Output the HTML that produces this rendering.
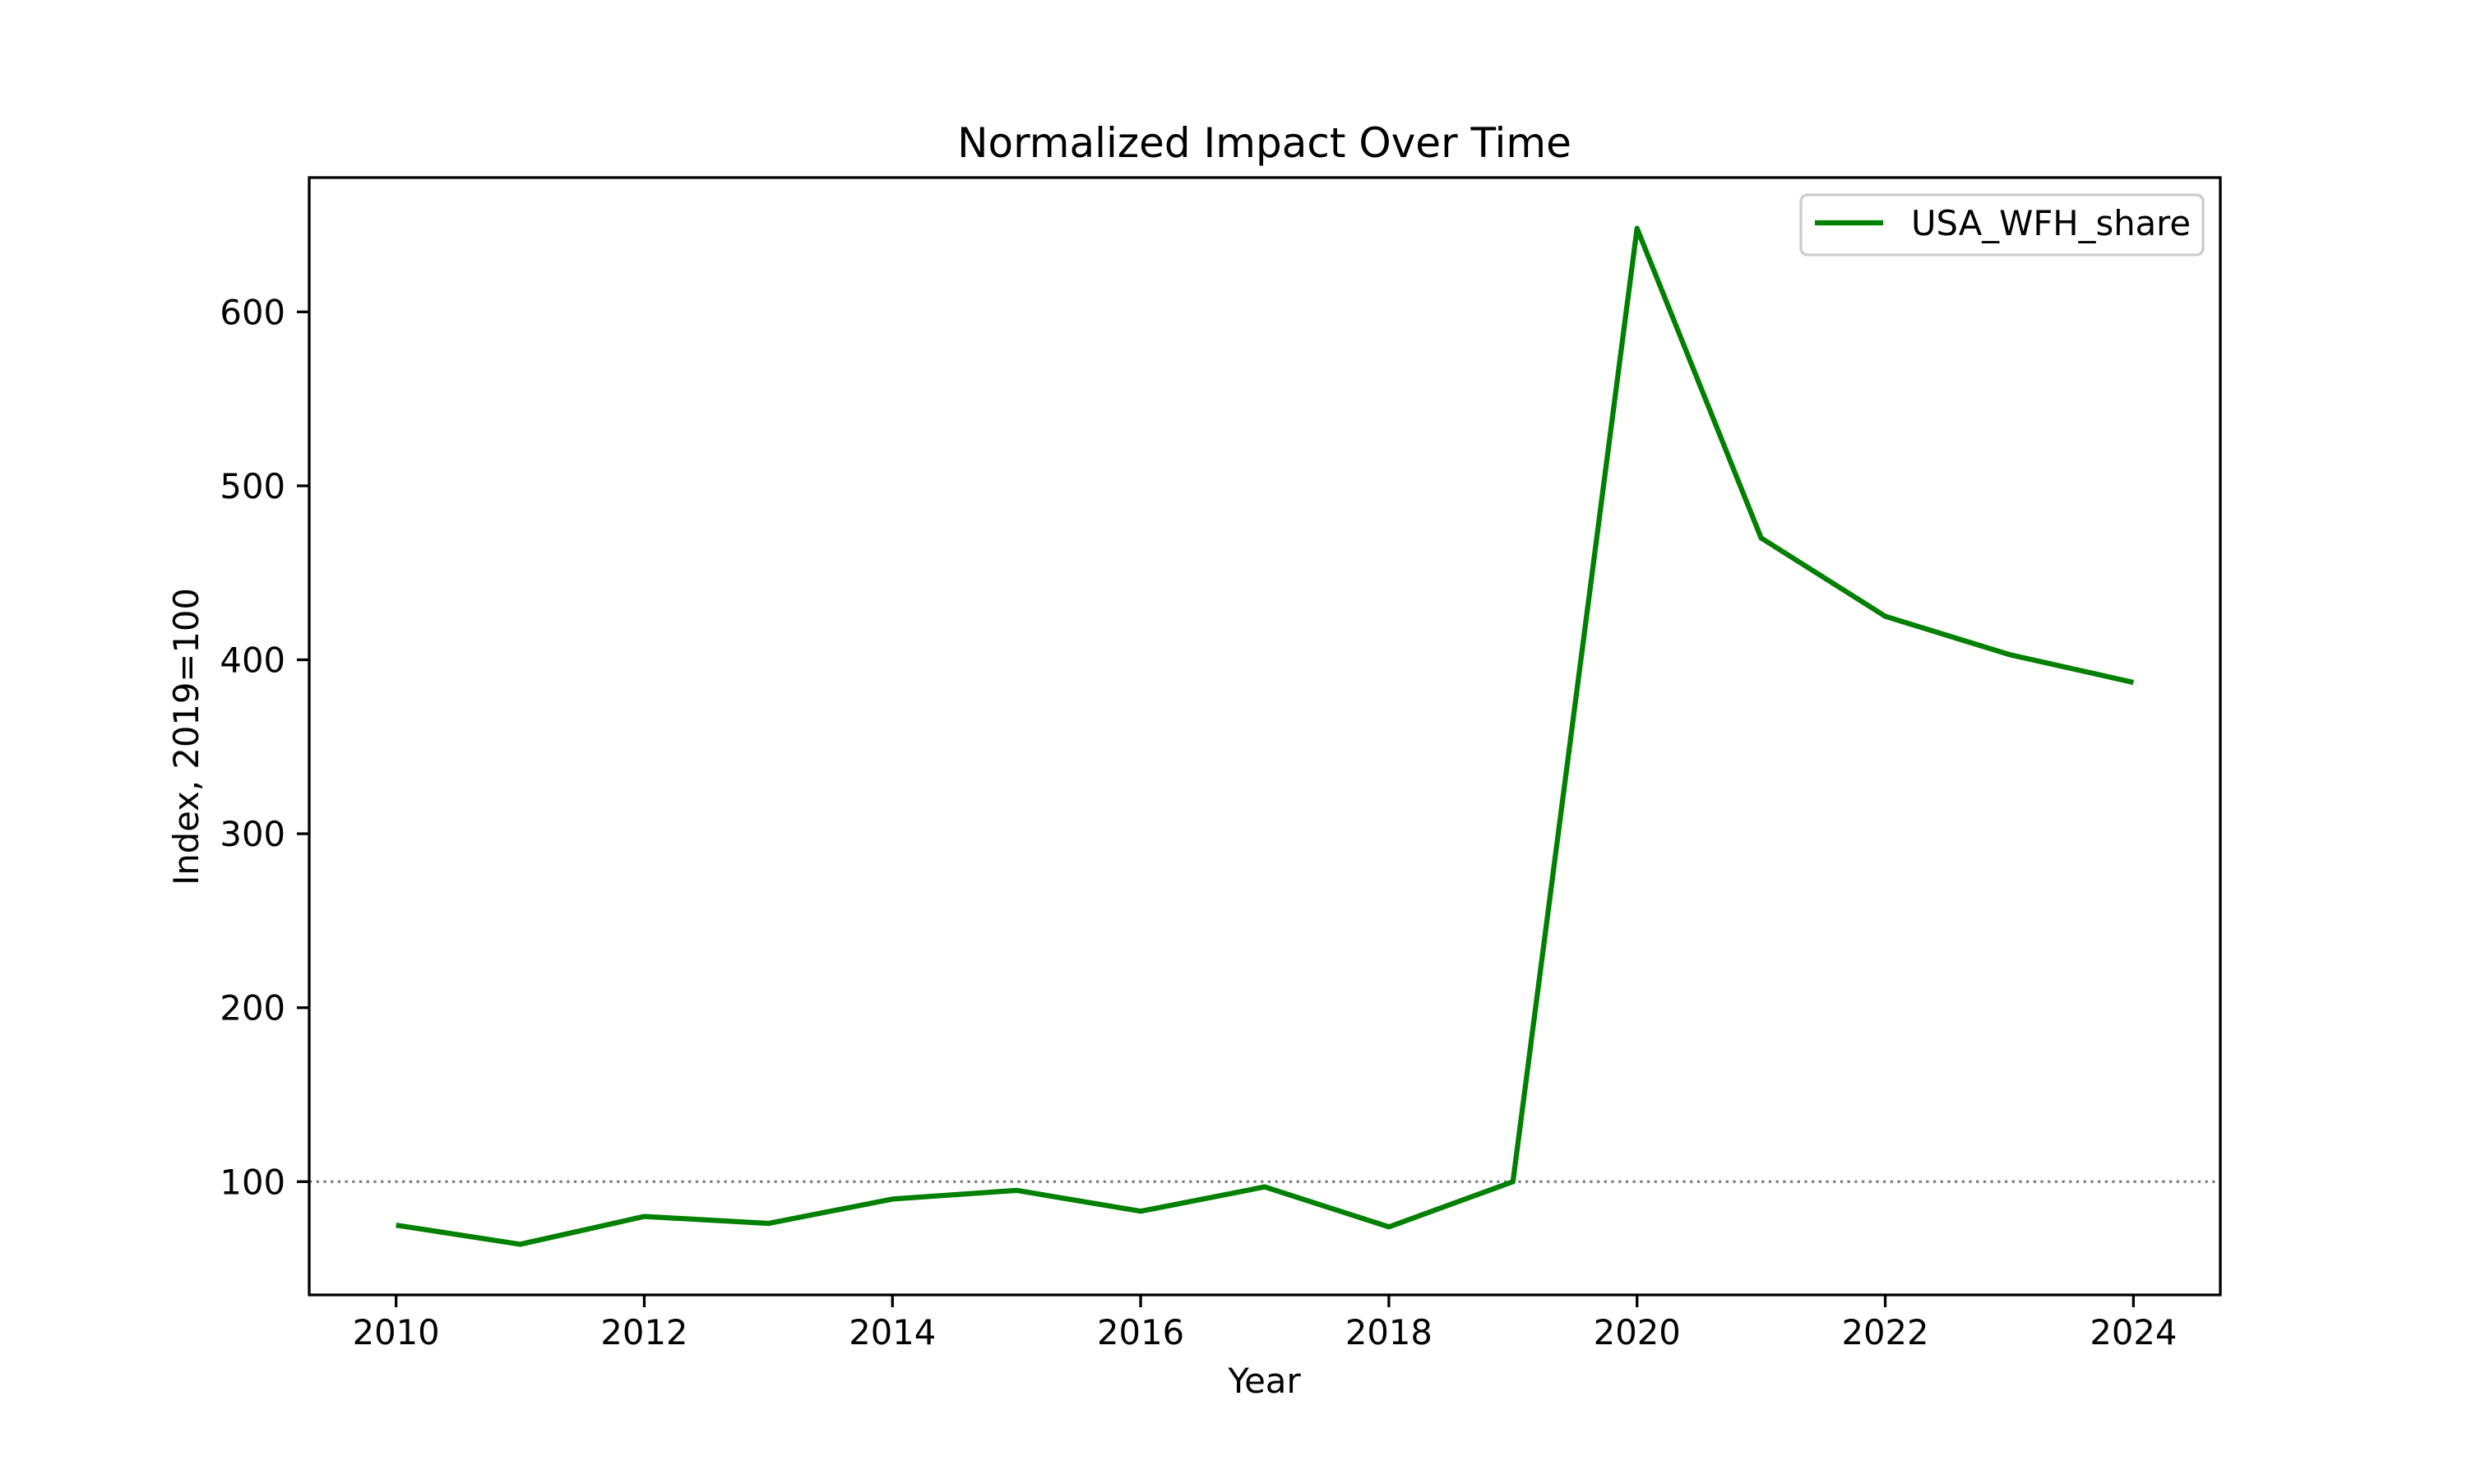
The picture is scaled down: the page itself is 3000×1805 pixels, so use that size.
<!DOCTYPE html>
<html><head><meta charset="utf-8"><style>
body{margin:0;background:#fff}
svg text{font-family:"DejaVu Sans","Liberation Sans",sans-serif;fill:#000}
</style></head><body>
<svg id="chart" width="3000" height="1800" viewBox="0 0 3000 1800" xmlns="http://www.w3.org/2000/svg">
<rect width="3000" height="1800" fill="#fff"/>
<text x="1537.5" y="191" font-size="50" text-anchor="middle">Normalized Impact Over Time</text>
<g id="grid"></g>
<g id="series"></g>
<rect x="376" y="216" width="2324" height="1359" fill="none" stroke="#000" stroke-width="3.3"/>
<g id="xticks"></g><g id="yticks"></g>
<text x="1537.5" y="1694" font-size="41.7" text-anchor="middle">Year</text>
<text transform="translate(241,896) rotate(-90)" font-size="41.7" text-anchor="middle">Index, 2019=100</text>
<g>
<rect x="2190" y="237" width="489" height="73" rx="8" fill="#fff" stroke="#ccc" stroke-width="3.3"/>
<line x1="2207" y1="271" x2="2290" y2="271" stroke="#008000" stroke-width="6.25"/>
<text x="2324" y="286" font-size="41.7">USA_WFH_share</text>
</g>
</svg>
<script>
const years=[2010,2011,2012,2013,2014,2015,2016,2017,2018,2019,2020,2021,2022,2023,2024];
const values=[75,64,80,76,90,95,83,97,74,100,648,470,425,403,387];
const xTickLabels=[2010,2012,2014,2016,2018,2020,2022,2024];
const yTickLabels=[100,200,300,400,500,600];
const baseline=[100];
const NS="http://www.w3.org/2000/svg";
const xmin=2009.3,xmax=2024.7,ymin=34.9,ymax=677.2;
function x(v){return 376+(v-xmin)/(xmax-xmin)*2324;}
function y(v){return 1575-(v-ymin)/(ymax-ymin)*1359;}
function mk(t,a,p){const e=document.createElementNS(NS,t);for(const k in a)e.setAttribute(k,a[k]);p.appendChild(e);return e;}
const g=document.getElementById('grid');
baseline.forEach(b=>{const l=mk('line',{x1:376,x2:2700,y1:y(b),y2:y(b),stroke:'#808080','stroke-width':3.3,'stroke-dasharray':'3.3 5.4'},g);

});
const s=document.getElementById('series');
const p=mk('polyline',{points:years.map((yr,i)=>x(yr)+','+y(values[i])).join(' '),fill:'none',stroke:'#008000','stroke-width':6.25,'stroke-linejoin':'round'},s);


const xt=document.getElementById('xticks');
xTickLabels.forEach(v=>{const l=mk('line',{x1:x(v),x2:x(v),y1:1575,y2:1590,stroke:'#000','stroke-width':3.3},xt);


const t=mk('text',{x:x(v),y:1635,'font-size':41.7,'text-anchor':'middle'},xt);t.textContent=v;

});
const yt=document.getElementById('yticks');
yTickLabels.forEach(v=>{const l=mk('line',{x1:361,x2:376,y1:y(v),y2:y(v),stroke:'#000','stroke-width':3.3},yt);


const t=mk('text',{x:347,y:y(v)+15,'font-size':41.7,'text-anchor':'end'},yt);t.textContent=v;

});
</script>
</body></html>
